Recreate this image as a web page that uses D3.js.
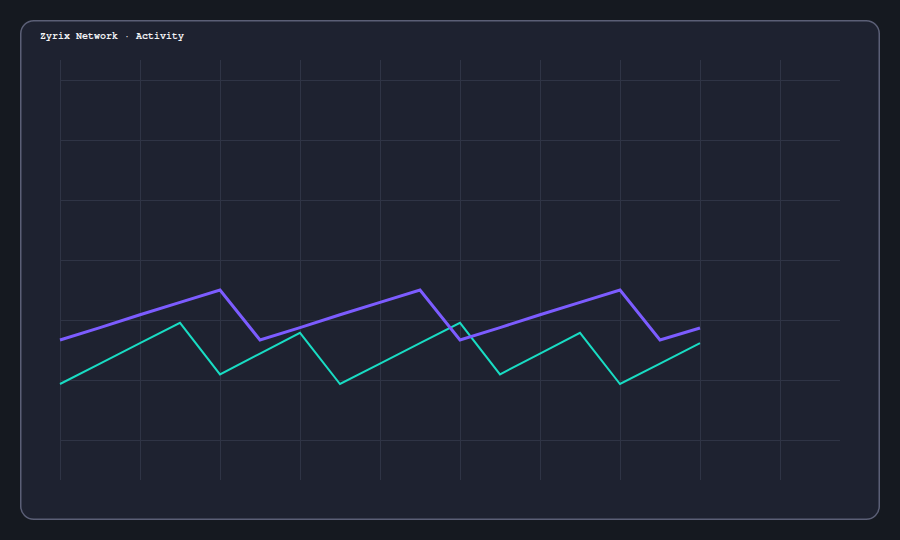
<!DOCTYPE html>
<html><head><meta charset="utf-8">
<script src="https://cdn.jsdelivr.net/npm/d3@7"></script>
<style>html,body{margin:0;padding:0;background:#151920;}svg{display:block;}</style>
</head><body>
<script>
const title = "Zyrix Network · Activity";
const xIndex = [0,1,2,3,4,5,6,7,8,9,10,11,12,13,14,15,16];
const seriesPurple = [35,38.1,41.3,44.4,47.5,35,38.1,41.3,44.4,47.5,35,38.1,41.3,44.4,47.5,35,38];
const seriesTeal = [24,29.1,34.2,39.3,26.4,31.6,36.8,24,29.1,34.2,39.3,26.4,31.6,36.8,24,29.1,34.2];
const xTicks = [0,2,4,6,8,10,12,14,16,18];
const yTicks = [10,25,40,55,70,85,100];

const W = 900, H = 540;
const svg = d3.select("body").append("svg").attr("width", W).attr("height", H);
svg.append("rect").attr("width", W).attr("height", H).attr("fill", "#151920");
svg.append("rect").attr("x", 20.75).attr("y", 20.75).attr("width", 858.5).attr("height", 498.5)
  .attr("rx", 13).attr("fill", "#1e2230").attr("stroke", "#5b5f76").attr("stroke-width", 1.5);
svg.append("text").attr("x", 40).attr("y", 39).text(title)
  .attr("font-family", "FreeMono, 'Liberation Mono', monospace")
  .attr("font-weight", "bold").attr("font-size", 10).attr("fill", "#f2f2f5");

const x = d3.scaleLinear().domain([0, 19.5]).range([60, 840]);
const y = d3.scaleLinear().domain([0, 105]).range([480, 60]);

const g = svg.append("g");
g.selectAll("line.v").data(xTicks).join("line").attr("class","v")
  .attr("x1", d => x(d)).attr("x2", d => x(d)).attr("y1", 60).attr("y2", 480)
  .attr("stroke", "#2f3445").attr("stroke-width", 1).attr("shape-rendering","crispEdges");
g.selectAll("line.h").data(yTicks).join("line").attr("class","h")
  .attr("y1", d => y(d)).attr("y2", d => y(d)).attr("x1", 60).attr("x2", 840)
  .attr("stroke", "#2f3445").attr("stroke-width", 1).attr("shape-rendering","crispEdges");

const line = vals => d3.line().x((d,i) => x(xIndex[i])).y(d => y(d))(vals);
svg.append("path").attr("d", line(seriesTeal)).attr("fill","none")
  .attr("stroke", "#19dcc3").attr("stroke-width", 2).attr("stroke-linejoin","miter");
svg.append("path").attr("d", line(seriesPurple)).attr("fill","none")
  .attr("stroke", "#7c5cff").attr("stroke-width", 3).attr("stroke-linejoin","miter");
</script>
</body></html>
